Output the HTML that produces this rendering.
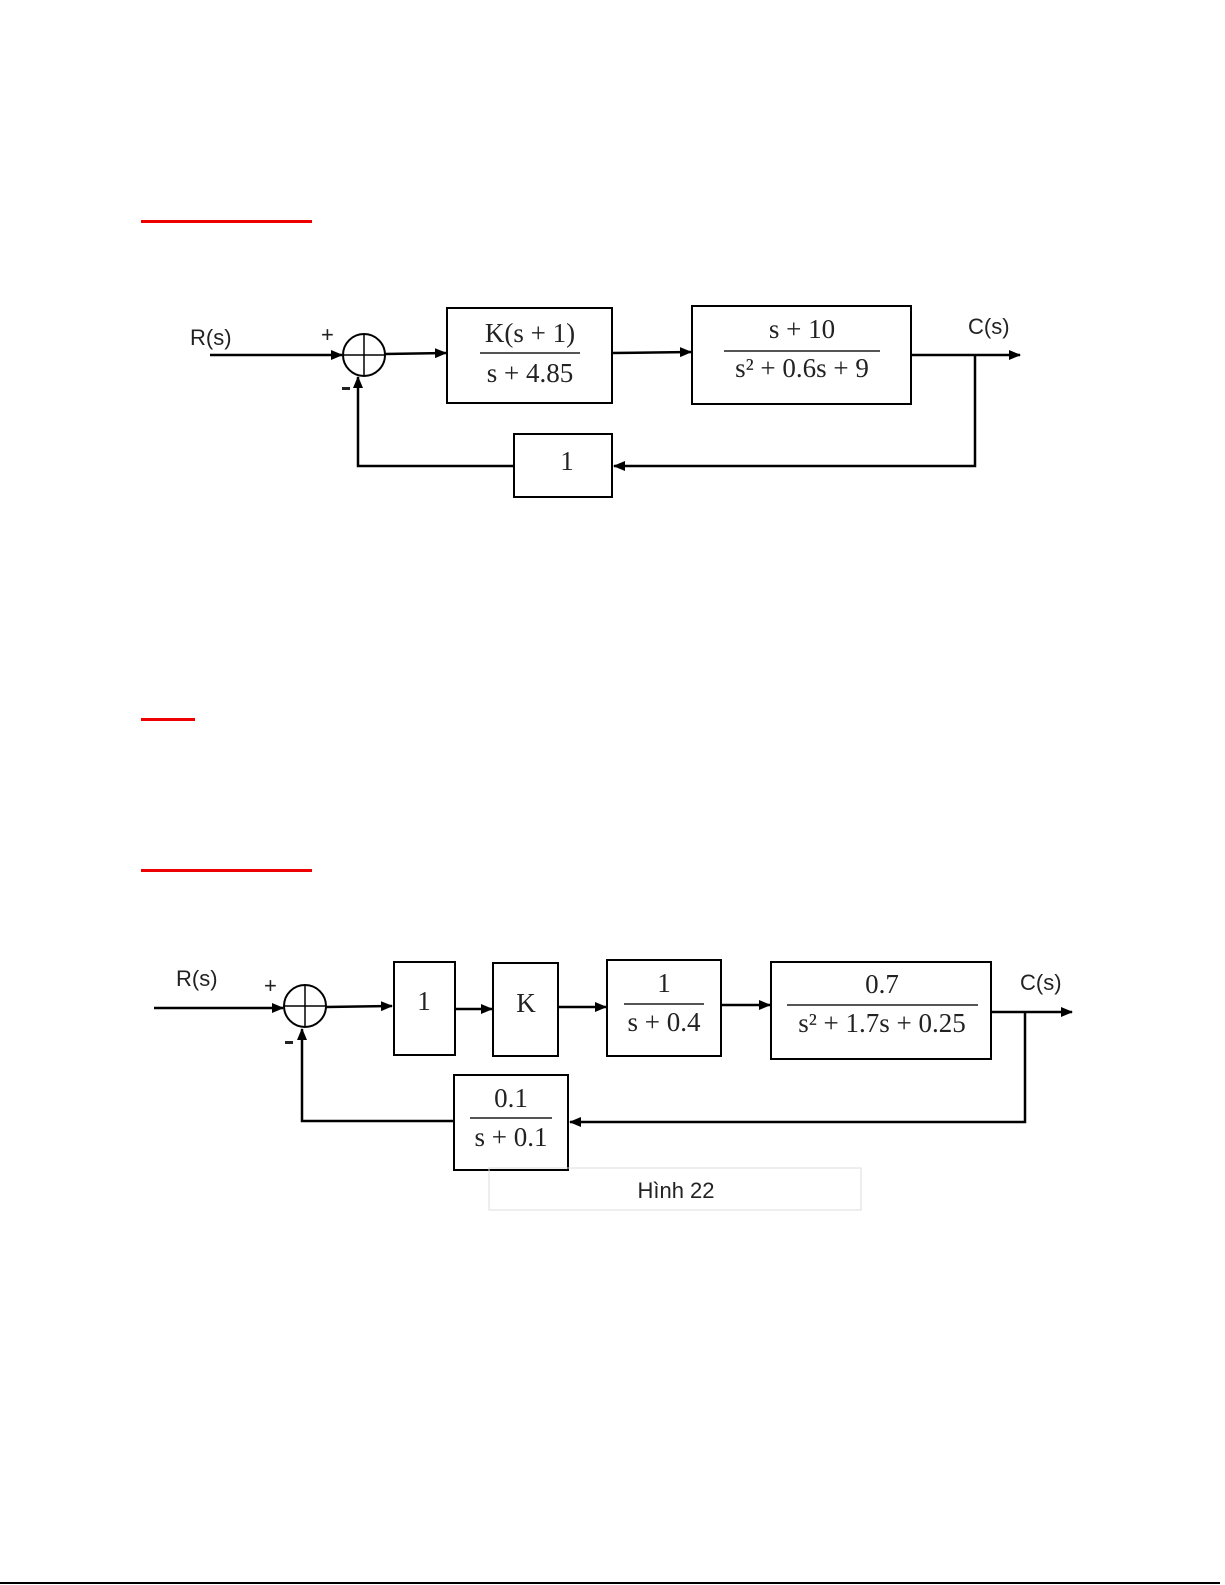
<!DOCTYPE html>
<html><head><meta charset="utf-8"><style>
html,body{margin:0;padding:0;background:#fff;}
svg{display:block;}
.t{font-family:"Liberation Serif",serif;font-size:27px;fill:#222;}
.s{font-family:"Liberation Sans",sans-serif;font-size:22px;fill:#222;}
</style></head><body>
<svg width="1225" height="1585" viewBox="0 0 1225 1585" xmlns="http://www.w3.org/2000/svg">
<defs>
<marker id="a" markerWidth="12" markerHeight="10" refX="11" refY="5" orient="auto" markerUnits="userSpaceOnUse">
<path d="M0,0 L12,5 L0,10 z" fill="#000"/></marker>
</defs>
<rect x="0" y="0" width="1225" height="1585" fill="#fff"/>
<rect x="141" y="220" width="171" height="3" fill="#e00"/>
<rect x="141" y="718" width="54" height="3" fill="#e00"/>
<rect x="141" y="869" width="171" height="3" fill="#e00"/>
<rect x="0" y="1582" width="1220" height="2" fill="#000"/>

<g stroke="#000" stroke-width="2.5" fill="none">
<line x1="210" y1="355" x2="342" y2="355" marker-end="url(#a)"/>
<circle cx="364" cy="355" r="21" stroke-width="2"/>
<line x1="343" y1="355" x2="385" y2="355" stroke-width="1.5"/>
<line x1="364" y1="334" x2="364" y2="376" stroke-width="1.5"/>
<line x1="385" y1="354" x2="446" y2="353" marker-end="url(#a)"/>
<rect x="447" y="308" width="165" height="95" stroke-width="2"/>
<line x1="612" y1="353" x2="691" y2="352" marker-end="url(#a)"/>
<rect x="692" y="306" width="219" height="98" stroke-width="2"/>
<line x1="911" y1="355" x2="1020" y2="355" marker-end="url(#a)"/>
<polyline points="975,355 975,466 614,466" marker-end="url(#a)"/>
<rect x="514" y="434" width="98" height="63" stroke-width="2"/>
<polyline points="514,466 358,466 358,377" marker-end="url(#a)"/>
<line x1="480" y1="353" x2="580" y2="353" stroke="#555" stroke-width="2"/>
<line x1="724" y1="351" x2="880" y2="351" stroke="#555" stroke-width="2"/>

<line x1="154" y1="1008" x2="283" y2="1008" marker-end="url(#a)"/>
<circle cx="305" cy="1006" r="21" stroke-width="2"/>
<line x1="284" y1="1006" x2="326" y2="1006" stroke-width="1.5"/>
<line x1="305" y1="985" x2="305" y2="1027" stroke-width="1.5"/>
<line x1="326" y1="1007" x2="392" y2="1006" marker-end="url(#a)"/>
<rect x="394" y="962" width="61" height="93" stroke-width="2"/>
<line x1="455" y1="1009" x2="492" y2="1009" marker-end="url(#a)"/>
<rect x="493" y="963" width="65" height="93" stroke-width="2"/>
<line x1="558" y1="1007" x2="606" y2="1007" marker-end="url(#a)"/>
<rect x="607" y="960" width="114" height="96" stroke-width="2"/>
<line x1="721" y1="1005" x2="770" y2="1005" marker-end="url(#a)"/>
<rect x="771" y="962" width="220" height="97" stroke-width="2"/>
<line x1="991" y1="1012" x2="1072" y2="1012" marker-end="url(#a)"/>
<polyline points="1025,1012 1025,1122 570,1122" marker-end="url(#a)"/>
<rect x="454" y="1075" width="114" height="95" stroke-width="2"/>
<polyline points="454,1121 302,1121 302,1029" marker-end="url(#a)"/>
<line x1="624" y1="1004" x2="704" y2="1004" stroke="#555" stroke-width="2"/>
<line x1="787" y1="1005" x2="978" y2="1005" stroke="#555" stroke-width="2"/>
<line x1="470" y1="1118" x2="552" y2="1118" stroke="#555" stroke-width="2"/>
<rect x="489" y="1168" width="372" height="42" stroke="#ddd" stroke-width="1"/>
</g>

<text x="190" y="345" class="s">R(s)</text>
<text x="321" y="342" class="s" font-size="16">+</text>
<rect x="342" y="387" width="8" height="3" fill="#222"/>
<text x="968" y="334" class="s">C(s)</text>
<text x="530" y="342" class="t" text-anchor="middle">K(s + 1)</text>
<text x="530" y="382" class="t" text-anchor="middle">s + 4.85</text>
<text x="802" y="338" class="t" text-anchor="middle">s + 10</text>
<text x="802" y="377" class="t" text-anchor="middle">s² + 0.6s + 9</text>
<text x="567" y="470" class="t" text-anchor="middle" font-size="24">1</text>

<text x="176" y="986" class="s">R(s)</text>
<text x="264" y="993" class="s" font-size="16">+</text>
<rect x="285" y="1041" width="8" height="3" fill="#222"/>
<text x="1020" y="990" class="s">C(s)</text>
<text x="424" y="1010" class="t" text-anchor="middle">1</text>
<text x="526" y="1012" class="t" text-anchor="middle">K</text>
<text x="664" y="992" class="t" text-anchor="middle">1</text>
<text x="664" y="1031" class="t" text-anchor="middle">s + 0.4</text>
<text x="882" y="993" class="t" text-anchor="middle">0.7</text>
<text x="882" y="1032" class="t" text-anchor="middle">s² + 1.7s + 0.25</text>
<text x="511" y="1107" class="t" text-anchor="middle">0.1</text>
<text x="511" y="1146" class="t" text-anchor="middle">s + 0.1</text>
<text x="676" y="1198" class="s" text-anchor="middle" font-size="18">Hình 22</text>
</svg>
</body></html>
